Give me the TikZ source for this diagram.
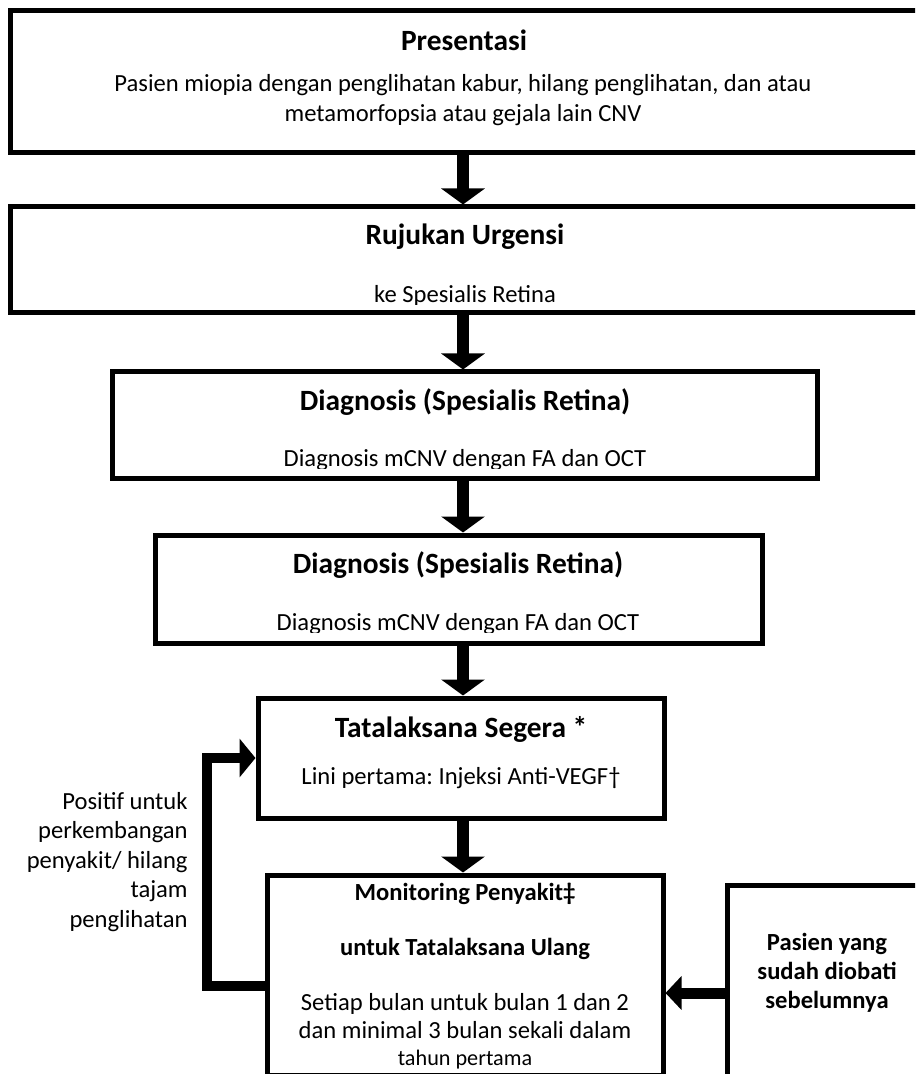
\documentclass[tikz,border=0pt]{standalone}
\usepackage{fontspec}
\setmainfont{Carlito}
\frenchspacing
\usetikzlibrary{arrows.meta,fit}
\begin{document}
\begin{tikzpicture}[x=0.5pt,y=-0.5pt,
  box/.style={draw, line width=2.5pt, inner sep=0pt},
  title/.style={font=\fontsize{14.7}{17}\selectfont\bfseries, inner sep=0pt, anchor=base},
  body/.style={font=\fontsize{12.3}{15}\selectfont, inner sep=0pt, anchor=base, align=center},
  boldbody/.style={body, font=\fontsize{12.3}{14.5}\selectfont\bfseries},
  down/.style={line width=6pt, -{Triangle[width=21.5pt,length=8pt]}},
  back/.style={line width=5pt, -{Triangle[width=19pt,length=8pt]}},
  sidearrow/.style={line width=5.5pt, -{Triangle[width=16.5pt,length=8pt]}}]
\useasboundingbox (0,0) rectangle (915,1074);
\clip (0,0) rectangle (915,1074);

\node[box, fit={(10,11) (940,153)}] (pres) {};
\node[box, fit={(10,207) (940,313)}] (ruj) {};
\node[box, fit={(112,372) (817,478)}] (diag1) {};
\node[box, fit={(155,535) (762,643)}] (diag2) {};
\node[box, fit={(258,698) (664,818)}] (tata) {};
\node[box, fit={(267,875) (663,1075)}] (mon) {};
\node[box, fit={(727,885) (940,1090)}] (pas) {};

\node[title] (presT) at (464,51) {Presentasi};
% base of a multi-line node = last line
\node[body] (presB) at (463,122) {Pasien miopia dengan penglihatan kabur, hilang penglihatan, dan atau\\metamorfopsia atau gejala lain CNV};
\node[title] (rujT) at (465,245) {Rujukan Urgensi};
\begin{scope}
\clip (0,0) rectangle (915,305);
\node[body] (rujB) at (465,303) {ke Spesialis Retina};
\end{scope}
\node[title] (diag1T) at (465,410) {Diagnosis (Spesialis Retina)};
\begin{scope}
\clip (0,0) rectangle (915,468);
\node[body] (diag1B) at (465,466) {Diagnosis mCNV dengan FA dan OCT};
\end{scope}
\node[title] (diag2T) at (458,573) {Diagnosis (Spesialis Retina)};
\begin{scope}
\clip (0,0) rectangle (915,632);
\node[body] (diag2B) at (458,630) {Diagnosis mCNV dengan FA dan OCT};
\end{scope}
\node[title] (tataT) at (461,737) {Tatalaksana Segera *};
\node[body] (tataB) at (461,784) {Lini pertama: Injeksi Anti-VEGF†};
\node[boldbody] (monT) at (465,900) {Monitoring Penyakit‡};
\node[boldbody] (monU) at (465,955) {untuk Tatalaksana Ulang};
\node[body, font=\fontsize{12.3}{14}\selectfont] (monB) at (465,1038) {Setiap bulan untuk bulan 1 dan 2\\dan minimal 3 bulan sekali dalam};
\node[body, font=\fontsize{11.1}{13}\selectfont] (monC) at (465,1065) {tahun pertama};
\node[boldbody] (pasT) at (827,1008) {Pasien yang\\sudah diobati\\sebelumnya};
\node[body, anchor=base east, align=right, font=\fontsize{12.3}{14.75}\selectfont] (note) at (188,927) {Positif untuk\\perkembangan\\penyakit/ hilang\\tajam\\penglihatan};

\coordinate (ax) at (463,0);
\draw[down] (pres.south -| ax) -- (ruj.north -| ax);
\draw[down] (ruj.south -| ax) -- (diag1.north -| ax);
\draw[down] (diag1.south -| ax) -- (diag2.north -| ax);
\draw[down] (diag2.south -| ax) -- (tata.north -| ax);
\draw[down] (tata.south -| ax) -- (mon.north -| ax);

\coordinate (lp) at (207,986);
\draw[back] (mon.west |- lp) -- (lp) |- (tata.west);
\coordinate (hp) at (700,993);
\draw[sidearrow] (pas.west |- hp) -- (mon.east |- hp);
\end{tikzpicture}
\end{document}
